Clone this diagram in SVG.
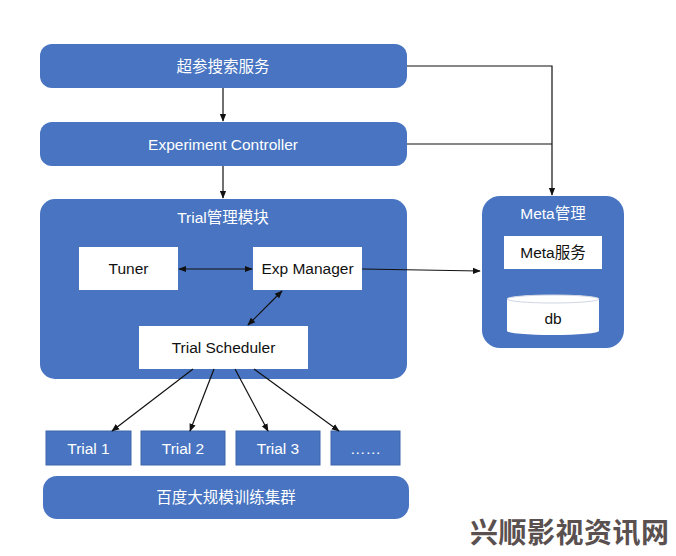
<svg xmlns="http://www.w3.org/2000/svg" width="676" height="556" viewBox="0 0 676 556">
<style>
.blue{fill:#4874c1;}
.wbox{fill:#ffffff;}
.wt{fill:#ffffff;font-family:"Liberation Sans","Noto Sans CJK SC",sans-serif;font-size:15.5px;text-anchor:middle;dominant-baseline:central;}
.bt{fill:#111111;font-family:"Liberation Sans","Noto Sans CJK SC",sans-serif;font-size:15.5px;text-anchor:middle;dominant-baseline:central;}
.ln{stroke:#111111;stroke-width:1.2;fill:none;}
</style>
<defs>
<marker id="ah" viewBox="0 0 10 10" refX="9" refY="5" markerWidth="8" markerHeight="8" orient="auto-start-reverse" markerUnits="userSpaceOnUse">
<path d="M0,1 L10,5 L0,9 z" fill="#111111"/>
</marker>
</defs>
<rect width="676" height="556" fill="#ffffff"/>
<g id="search-service">
<rect class="blue" x="40" y="44" width="367" height="44" rx="12"/>
<text class="wt" x="223" y="66">超参搜索服务</text>
</g>
<g id="experiment-controller">
<rect class="blue" x="40" y="122" width="367" height="44" rx="12"/>
<text class="wt" x="223" y="144">Experiment Controller</text>
</g>
<g id="trial-module">
<rect class="blue" x="40" y="199" width="367" height="180" rx="15"/>
<text class="wt" x="223" y="217">Trial管理模块</text>
</g>
<g id="tuner">
<rect class="wbox" x="79" y="247" width="99" height="43"/>
<text class="bt" x="128.5" y="268.5">Tuner</text>
</g>
<g id="exp-manager">
<rect class="wbox" x="253" y="247" width="109" height="43"/>
<text class="bt" x="307.5" y="268.5">Exp Manager</text>
</g>
<g id="trial-scheduler">
<rect class="wbox" x="139" y="326" width="169" height="43"/>
<text class="bt" x="223.5" y="347.5">Trial Scheduler</text>
</g>
<g id="meta">
<rect class="blue" x="482" y="196" width="142" height="152" rx="18"/>
<text class="wt" x="553" y="213">Meta管理</text>
</g>
<g id="meta-service">
<rect class="wbox" x="504" y="236" width="98" height="33"/>
<text class="bt" x="553" y="252.5">Meta服务</text>
</g>
<g id="db">
<path d="M507,299 L507,331 A46,4 0 0 0 599,331 L599,299 A46,4 0 0 0 507,299 z" fill="#ffffff"/>
<ellipse cx="553" cy="299" rx="46" ry="4" fill="#ffffff" stroke="#cfd6e2" stroke-width="1"/>
<text class="bt" x="553" y="318">db</text>
</g>
<g id="trial1">
<rect class="blue" x="46" y="431" width="85" height="34" stroke="#3d66aa" stroke-width="1"/>
<text class="wt" x="88.5" y="448">Trial 1</text>
</g>
<g id="trial2">
<rect class="blue" x="141" y="431" width="84" height="34" stroke="#3d66aa" stroke-width="1"/>
<text class="wt" x="183" y="448">Trial 2</text>
</g>
<g id="trial3">
<rect class="blue" x="236" y="431" width="84" height="34" stroke="#3d66aa" stroke-width="1"/>
<text class="wt" x="278" y="448">Trial 3</text>
</g>
<g id="trial-more">
<rect class="blue" x="331" y="431" width="69" height="34" stroke="#3d66aa" stroke-width="1"/>
<text class="wt" x="365.5" y="448">……</text>
</g>
<g id="cluster">
<rect class="blue" x="43" y="476" width="366" height="43" rx="14"/>
<text class="wt" x="226" y="497.5">百度大规模训练集群</text>
</g>
<g id="connectors">
<line class="ln" x1="223" y1="88" x2="223" y2="121" marker-end="url(#ah)"/>
<line class="ln" x1="223" y1="166" x2="223" y2="198" marker-end="url(#ah)"/>
<polyline class="ln" points="407,66 552,66 552,195" marker-end="url(#ah)"/>
<line class="ln" x1="407" y1="144" x2="552" y2="144"/>
<line class="ln" x1="179" y1="269" x2="252" y2="269" marker-start="url(#ah)" marker-end="url(#ah)"/>
<line class="ln" x1="362" y1="269" x2="480" y2="271" marker-end="url(#ah)"/>
<line class="ln" x1="282" y1="291" x2="248" y2="325" marker-start="url(#ah)" marker-end="url(#ah)"/>
<line class="ln" x1="193" y1="369" x2="112" y2="431" marker-end="url(#ah)"/>
<line class="ln" x1="214" y1="369" x2="190" y2="431" marker-end="url(#ah)"/>
<line class="ln" x1="235" y1="369" x2="268" y2="431" marker-end="url(#ah)"/>
<line class="ln" x1="254" y1="369" x2="339" y2="431" marker-end="url(#ah)"/>
</g>
<text x="470" y="543" fill="#5a5050" font-family="'Noto Sans CJK SC',sans-serif" font-weight="bold" font-size="28" textLength="199">兴顺影视资讯网</text>
</svg>
